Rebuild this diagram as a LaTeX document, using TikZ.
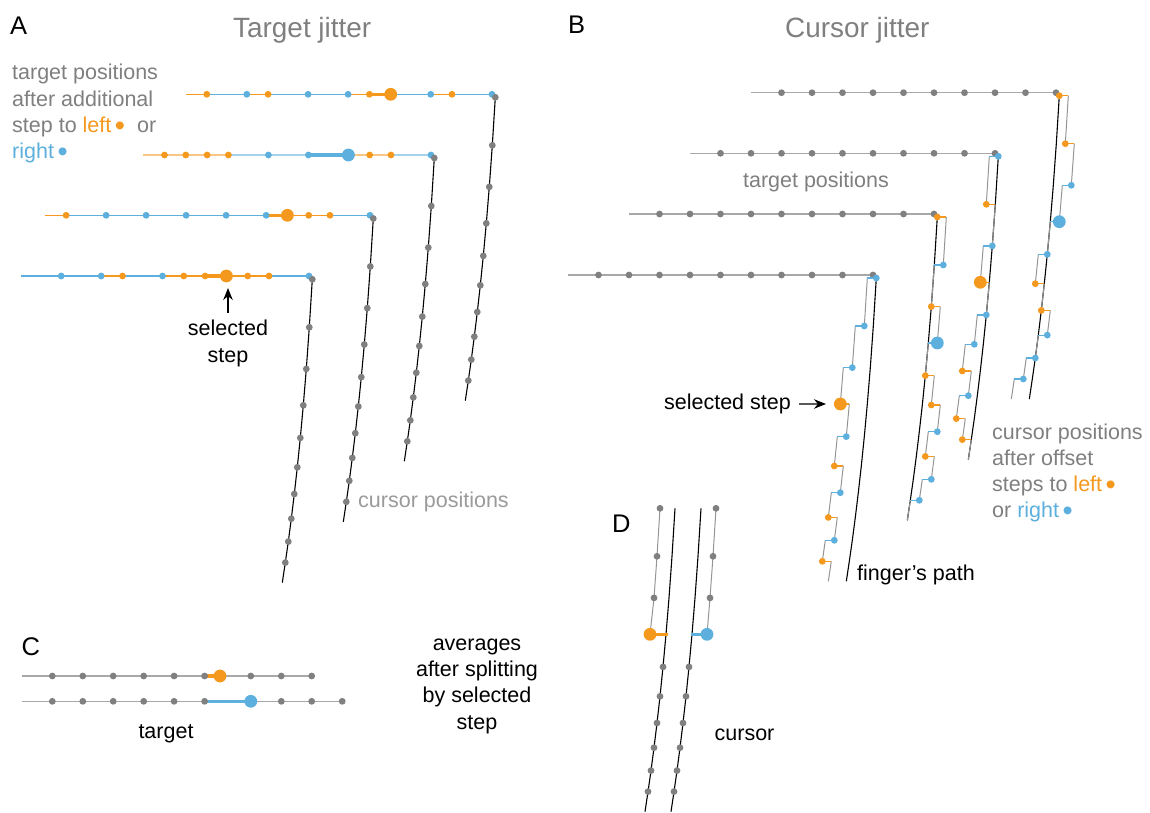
\documentclass[tikz,border=0pt]{standalone}
\usepackage{fontspec}
\setmainfont{Liberation Sans}
\usetikzlibrary{arrows.meta}
\definecolor{lftc}{HTML}{F4981E}
\definecolor{rgtc}{HTML}{5DAFDD}
\definecolor{dotg}{HTML}{808080}
\definecolor{txtg}{HTML}{7F7F7F}
\definecolor{curg}{HTML}{9A9A9A}
\definecolor{rowg}{HTML}{A8A8A8}
\definecolor{stairg}{HTML}{959595}
\pgfdeclarelayer{back}
\pgfsetlayers{back,main}
\def\tsteps{-3/48,-6/89.6,-9/126,-12/158.6,-15/188,-18/214.7,-21/239.4,-24/262.3,-27/283.3,-30/303.4}
\def\tdy{{0,48,89.6,126,158.6,188,214.7,239.4,262.3,283.3,303.4}}
\newcommand{\ldot}{\raisebox{-2.6pt}{\fontsize{29}{29}\selectfont •}}
\newcommand{\arow}[5][1]{%
  \foreach \s [count=\k, evaluate=\s as \xx using \px+30.65-9.35*(\s), remember=\xx as \px (initially #3)] in {#5} {
    \ifnum\s>0 \def\cc{lftc}\else \def\cc{rgtc}\fi
    \begin{pgfonlayer}{back}
      \ifnum\k=#4 \draw[\cc,line width=3.5] (\px,#2) -- (\xx,#2);
      \else \draw[\cc,line width=1.5,draw opacity=#1] (\px,#2) -- (\xx,#2); \fi
    \end{pgfonlayer}
    \ifnum\k=#4 \fill[\cc] (\xx,#2) circle (6.4); \else \fill[\cc] (\xx,#2) circle (3.4); \fi
  }
}
\newcommand{\acol}[2]{%
  \begin{scope}[shift={(#1,#2)}]
    \draw[black,line width=1.1] (0,0) \foreach \dx/\dy in \tsteps {-- (\dx,\dy)};
    \fill[dotg] (0,0) circle (3.4);
    \foreach \dx/\dy [count=\k] in \tsteps {\ifnum\k<10 \fill[dotg] (\dx,\dy) circle (3.4);\fi}
  \end{scope}
}
\newcommand{\brow}[2]{%
  \draw[rowg,line width=1.5] (#1-305,#2) -- (#1,#2);
  \foreach \k in {0,...,9} \fill[dotg] (#1-30.5*\k,#2) circle (3.4);
}
\newcommand{\bcol}[4]{%
  \begin{scope}[shift={(#1,#2)}]
    \draw[black,line width=1.1] (0,0) \foreach \dx/\dy in \tsteps {-- (\dx,\dy)};
    \foreach \s [count=\k from 0, evaluate=\s as \cum using \pcum+(\s), remember=\cum as \pcum (initially 0)] in {#4} {
      \ifnum\s>0 \def\cc{lftc}\else \def\cc{rgtc}\fi
      \pgfmathsetmacro{\ya}{\tdy[\k]}
      \pgfmathsetmacro{\yb}{\tdy[\k+1]}
      \pgfmathsetmacro{\xd}{-3*\k+9*(\pcum)}
      \pgfmathsetmacro{\xa}{-3*\k+9*(\cum)}
      \draw[stairg,line width=1] (\xa,\ya) -- (\xa-3,\yb);
      \draw[\cc,line width=1.2] (\xd,\ya) -- (\xa,\ya);
      \ifnum\k=#3 \fill[\cc] (\xd,\ya) circle (6.4); \else \fill[\cc] (\xd,\ya) circle (3.4); \fi
    }
  \end{scope}
}
\newcommand{\crow}[5]{%
  \draw[rowg,line width=1.5] (21.7,#1) -- (#2,#1);
  \draw[#4,line width=3.5] (204.6,#1) -- (#3,#1);
  \foreach \x in {#5} \fill[dotg] (\x,#1) circle (3.4);
  \fill[#4] (#3,#1) circle (6.4);
}
\newcommand{\dcol}[5]{%
  \begin{scope}[shift={(#1,508.3)}]
    \draw[black,line width=1.1] (0,0) \foreach \dx/\dy in \tsteps {-- (\dx,\dy)};
    \draw[stairg,line width=1] (#2,0) -- (#2-3,48) -- (#2-6,89.6) -- (#3-9,126);
    \draw[#5,line width=3.5] (#3-9,126) -- (#4-9,126);
    \foreach \dx/\dy [count=\k] in \tsteps {\ifnum\k>3 \ifnum\k<10 \fill[dotg] (\dx,\dy) circle (3.4);\fi\fi}
    \foreach \dx/\dy in {0/0,-3/48,-6/89.6} \fill[dotg] (\dx+#2,\dy) circle (3.4);
    \fill[#5] (#3-9,126) circle (6.4);
  \end{scope}
}

\begin{document}
\begin{tikzpicture}[x=1pt,y=-1pt,
  lbl/.style={font=\fontsize{21.5}{26.3}\selectfont,inner sep=0pt},
  ttl/.style={font=\fontsize{27.9}{33}\selectfont,text=txtg,inner sep=0pt},
  pnl/.style={font=\fontsize{25.5}{30}\selectfont,inner sep=0pt},
  arr/.style={-{Stealth[length=12pt,width=9.5pt]},line width=1.2pt}]
  \useasboundingbox (0,0) rectangle (1150,813);
  \node[pnl,anchor=base west] (pa) at (10,35) {A};
  \node[pnl,anchor=base west] (pb) at (568,34) {B};
  \node[pnl,anchor=base west] (pc) at (21.5,655) {C};
  \node[pnl,anchor=base west] (pd) at (612,532.7) {D};
  \node[ttl,anchor=base west] (ta) at (233,38) {Target jitter};
  \node[ttl,anchor=base west] (tb) at (785,38) {Cursor jitter};

  \arow{94.3}{185.5}{7}{1,-1,1,-1,-1,1,1,-1,1,-1}
  \arow[0.55]{155}{143.2}{7}{1,1,1,1,-1,-1,-1,1,1,-1}
  \arow{215.3}{44.8}{7}{1,-1,-1,-1,-1,-1,1,1,1,-1}
  \arow{276}{21.2}{7}{-1,-1,1,-1,1,1,1,1,1,-1}
  \acol{312.3}{279.3}
  \acol{373.3}{218.5}
  \acol{434.3}{158}
  \acol{495.3}{97.3}
  \node[lbl,text=txtg,align=left,anchor=base west] (alegend) at (12,158.8)
    {target positions\\after additional\\step to \textcolor{lftc}{left\,\ldot}\ \ or\\\textcolor{rgtc}{right\,\ldot}};
  \node[lbl,text=curg,anchor=base west] (acur) at (358,507) {cursor positions};
  \node[lbl,align=center,anchor=base] (asel) at (228,362) {selected\\step};
  \coordinate (abig) at (228,288);
  \draw[arr,shorten <=7pt] (asel) -- (abig);

  \brow{1056}{92.7}
  \brow{995}{153.3}
  \brow{934}{214}
  \brow{873}{275}
  \bcol{876.3}{278}{3}{-1,-1,-1,1,-1,1,-1,1,-1,1}
  \bcol{937.3}{217}{3}{1,-1,1,-1,1,1,-1,1,-1,-1}
  \bcol{998.3}{156.3}{3}{-1,1,-1,1,-1,-1,1,-1,1,1}
  \bcol{1059.3}{95.7}{3}{1,1,-1,-1,-1,1,1,-1,-1,-1}
  \node[lbl,text=txtg,anchor=base] (btgt) at (816,188) {target positions};
  \node[lbl,anchor=base east] (bsel) at (791,409.5) {selected step};
  \coordinate (bbig) at (826,404);
  \draw[arr,shorten <=8pt] (bsel) -- (bbig);
  \node[lbl,text=txtg,align=left,anchor=base west] (blegend) at (992,517.9)
    {cursor positions\\after offset\\steps to \textcolor{lftc}{left\,\ldot}\\or \textcolor{rgtc}{right\,\ldot}};
  \node[lbl,anchor=base west] (bfing) at (857,580) {finger’s path};

  \crow{676}{311.7}{220}{lftc}{52.3,82.8,113.2,143.7,174.1,204.6,250.8,281.3,311.7}
  \crow{701.3}{342.2}{250.8}{rgtc}{52.3,82.8,113.2,143.7,174.1,204.6,281.3,311.7,342.2}
  \node[lbl,anchor=base] (ctgt) at (166,738) {target};
  \node[lbl,align=center,anchor=base] (cavg) at (477,729) {averages\\after splitting\\by selected\\step};

  \dcol{675}{-15}{-16}{1.7}{lftc}
  \dcol{701}{15}{15}{-1.5}{rgtc}
  \node[lbl,anchor=base] (dcur) at (744.5,740) {cursor};
\end{tikzpicture}
\end{document}
